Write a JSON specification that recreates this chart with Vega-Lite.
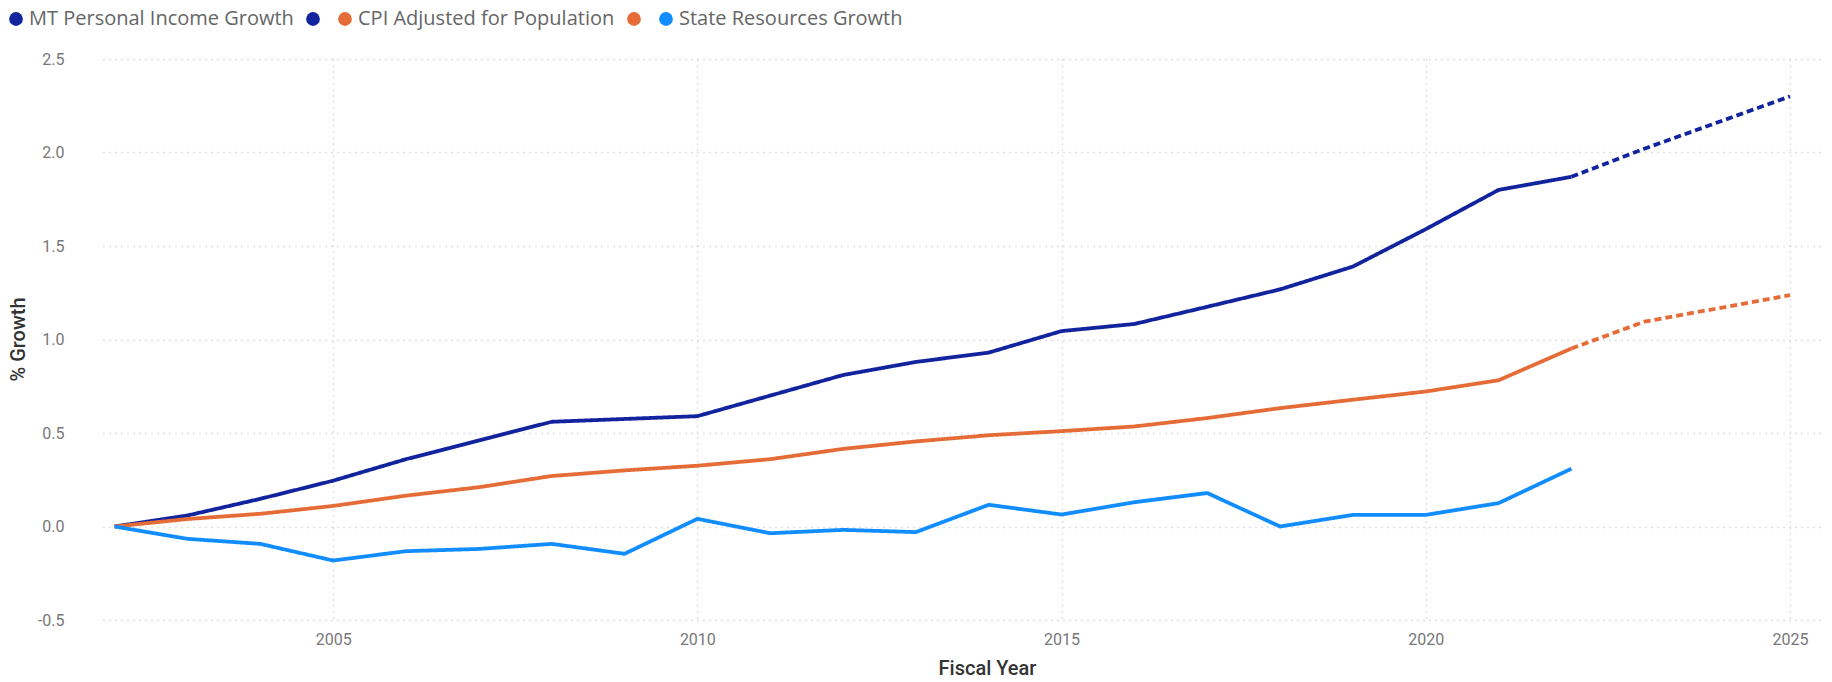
{
  "$schema": "https://vega.github.io/schema/vega-lite/v6.json",
  "autosize": "none",
  "width": 1719,
  "height": 561,
  "padding": {"left": 103, "top": 59, "right": 10, "bottom": 62},
  "background": "white",
  "config": {"view": {"stroke": null}},
  "data": {
    "values": [
      {"series": "MT Personal Income Growth", "kind": "Actual", "year": 2002, "value": 0.0},
      {"series": "MT Personal Income Growth", "kind": "Actual", "year": 2003, "value": 0.059},
      {"series": "MT Personal Income Growth", "kind": "Actual", "year": 2004, "value": 0.148},
      {"series": "MT Personal Income Growth", "kind": "Actual", "year": 2005, "value": 0.245},
      {"series": "MT Personal Income Growth", "kind": "Actual", "year": 2006, "value": 0.36},
      {"series": "MT Personal Income Growth", "kind": "Actual", "year": 2007, "value": 0.46},
      {"series": "MT Personal Income Growth", "kind": "Actual", "year": 2008, "value": 0.56},
      {"series": "MT Personal Income Growth", "kind": "Actual", "year": 2009, "value": 0.575},
      {"series": "MT Personal Income Growth", "kind": "Actual", "year": 2010, "value": 0.59},
      {"series": "MT Personal Income Growth", "kind": "Actual", "year": 2011, "value": 0.70},
      {"series": "MT Personal Income Growth", "kind": "Actual", "year": 2012, "value": 0.81},
      {"series": "MT Personal Income Growth", "kind": "Actual", "year": 2013, "value": 0.88},
      {"series": "MT Personal Income Growth", "kind": "Actual", "year": 2014, "value": 0.93},
      {"series": "MT Personal Income Growth", "kind": "Actual", "year": 2015, "value": 1.045},
      {"series": "MT Personal Income Growth", "kind": "Actual", "year": 2016, "value": 1.083},
      {"series": "MT Personal Income Growth", "kind": "Actual", "year": 2017, "value": 1.175},
      {"series": "MT Personal Income Growth", "kind": "Actual", "year": 2018, "value": 1.268},
      {"series": "MT Personal Income Growth", "kind": "Actual", "year": 2019, "value": 1.39},
      {"series": "MT Personal Income Growth", "kind": "Actual", "year": 2020, "value": 1.59},
      {"series": "MT Personal Income Growth", "kind": "Actual", "year": 2021, "value": 1.80},
      {"series": "MT Personal Income Growth", "kind": "Actual", "year": 2022, "value": 1.87},
      {"series": "MT Personal Income Growth Forecast", "kind": "Forecast", "year": 2022, "value": 1.87},
      {"series": "MT Personal Income Growth Forecast", "kind": "Forecast", "year": 2023, "value": 2.02},
      {"series": "MT Personal Income Growth Forecast", "kind": "Forecast", "year": 2024, "value": 2.16},
      {"series": "MT Personal Income Growth Forecast", "kind": "Forecast", "year": 2025, "value": 2.30},
      {"series": "CPI Adjusted for Population", "kind": "Actual", "year": 2002, "value": 0.0},
      {"series": "CPI Adjusted for Population", "kind": "Actual", "year": 2003, "value": 0.04},
      {"series": "CPI Adjusted for Population", "kind": "Actual", "year": 2004, "value": 0.068},
      {"series": "CPI Adjusted for Population", "kind": "Actual", "year": 2005, "value": 0.11},
      {"series": "CPI Adjusted for Population", "kind": "Actual", "year": 2006, "value": 0.165},
      {"series": "CPI Adjusted for Population", "kind": "Actual", "year": 2007, "value": 0.21},
      {"series": "CPI Adjusted for Population", "kind": "Actual", "year": 2008, "value": 0.27},
      {"series": "CPI Adjusted for Population", "kind": "Actual", "year": 2009, "value": 0.30},
      {"series": "CPI Adjusted for Population", "kind": "Actual", "year": 2010, "value": 0.325},
      {"series": "CPI Adjusted for Population", "kind": "Actual", "year": 2011, "value": 0.36},
      {"series": "CPI Adjusted for Population", "kind": "Actual", "year": 2012, "value": 0.415},
      {"series": "CPI Adjusted for Population", "kind": "Actual", "year": 2013, "value": 0.455},
      {"series": "CPI Adjusted for Population", "kind": "Actual", "year": 2014, "value": 0.488},
      {"series": "CPI Adjusted for Population", "kind": "Actual", "year": 2015, "value": 0.51},
      {"series": "CPI Adjusted for Population", "kind": "Actual", "year": 2016, "value": 0.535},
      {"series": "CPI Adjusted for Population", "kind": "Actual", "year": 2017, "value": 0.58},
      {"series": "CPI Adjusted for Population", "kind": "Actual", "year": 2018, "value": 0.633},
      {"series": "CPI Adjusted for Population", "kind": "Actual", "year": 2019, "value": 0.678},
      {"series": "CPI Adjusted for Population", "kind": "Actual", "year": 2020, "value": 0.722},
      {"series": "CPI Adjusted for Population", "kind": "Actual", "year": 2021, "value": 0.782},
      {"series": "CPI Adjusted for Population", "kind": "Actual", "year": 2022, "value": 0.952},
      {"series": "CPI Adjusted for Population Forecast", "kind": "Forecast", "year": 2022, "value": 0.952},
      {"series": "CPI Adjusted for Population Forecast", "kind": "Forecast", "year": 2023, "value": 1.095},
      {"series": "CPI Adjusted for Population Forecast", "kind": "Forecast", "year": 2024, "value": 1.166},
      {"series": "CPI Adjusted for Population Forecast", "kind": "Forecast", "year": 2025, "value": 1.237},
      {"series": "State Resources Growth", "kind": "Actual", "year": 2002, "value": 0.0},
      {"series": "State Resources Growth", "kind": "Actual", "year": 2003, "value": -0.066},
      {"series": "State Resources Growth", "kind": "Actual", "year": 2004, "value": -0.093},
      {"series": "State Resources Growth", "kind": "Actual", "year": 2005, "value": -0.182},
      {"series": "State Resources Growth", "kind": "Actual", "year": 2006, "value": -0.132},
      {"series": "State Resources Growth", "kind": "Actual", "year": 2007, "value": -0.12},
      {"series": "State Resources Growth", "kind": "Actual", "year": 2008, "value": -0.093},
      {"series": "State Resources Growth", "kind": "Actual", "year": 2009, "value": -0.146},
      {"series": "State Resources Growth", "kind": "Actual", "year": 2010, "value": 0.041},
      {"series": "State Resources Growth", "kind": "Actual", "year": 2011, "value": -0.036},
      {"series": "State Resources Growth", "kind": "Actual", "year": 2012, "value": -0.018},
      {"series": "State Resources Growth", "kind": "Actual", "year": 2013, "value": -0.03},
      {"series": "State Resources Growth", "kind": "Actual", "year": 2014, "value": 0.116},
      {"series": "State Resources Growth", "kind": "Actual", "year": 2015, "value": 0.064},
      {"series": "State Resources Growth", "kind": "Actual", "year": 2016, "value": 0.13},
      {"series": "State Resources Growth", "kind": "Actual", "year": 2017, "value": 0.179},
      {"series": "State Resources Growth", "kind": "Actual", "year": 2018, "value": 0.0},
      {"series": "State Resources Growth", "kind": "Actual", "year": 2019, "value": 0.062},
      {"series": "State Resources Growth", "kind": "Actual", "year": 2020, "value": 0.062},
      {"series": "State Resources Growth", "kind": "Actual", "year": 2021, "value": 0.125},
      {"series": "State Resources Growth", "kind": "Actual", "year": 2022, "value": 0.309}
    ]
  },
  "mark": {"type": "line", "strokeWidth": 3.8, "strokeCap": "butt", "strokeJoin": "round"},
  "encoding": {
    "x": {
      "field": "year",
      "type": "quantitative",
      "scale": {"domain": [2001.84, 2025.44], "nice": false, "zero": false},
      "axis": {
        "values": [2005, 2010, 2015, 2020, 2025],
        "format": "d",
        "title": "Fiscal Year",
        "titleFont": "Roboto",
        "titleFontSize": 20,
        "titleFontWeight": 500,
        "titleColor": "#333333",
        "titleX": 884,
        "titleY": 48,
        "titleAnchor": "middle",
        "titleBaseline": "middle",
        "labelFont": "Roboto",
        "labelFontSize": 16,
        "labelColor": "#777777",
        "labelPadding": 11,
        "domain": false,
        "ticks": false,
        "grid": true,
        "gridColor": "#C0C0C0",
        "gridDash": [1, 5],
        "gridWidth": 1.3
      }
    },
    "y": {
      "field": "value",
      "type": "quantitative",
      "scale": {"domain": [-0.5, 2.5], "nice": false, "zero": false},
      "axis": {
        "values": [-0.5, 0, 0.5, 1, 1.5, 2, 2.5],
        "format": ".1f",
        "labelExpr": "replace(datum.label, '\u2212', '-')",
        "title": "% Growth",
        "titleFont": "Roboto",
        "titleFontSize": 20,
        "titleFontWeight": 500,
        "titleColor": "#333333",
        "titleX": -85,
        "titleY": 280,
        "titleAngle": 270,
        "titleAnchor": "middle",
        "titleBaseline": "middle",
        "labelFont": "Roboto",
        "labelFontSize": 16,
        "labelColor": "#777777",
        "labelPadding": 39,
        "domain": false,
        "ticks": false,
        "grid": true,
        "gridColor": "#C0C0C0",
        "gridDash": [1, 5],
        "gridWidth": 1.3
      }
    },
    "color": {
      "field": "series",
      "type": "nominal",
      "scale": {
        "domain": ["MT Personal Income Growth", "MT Personal Income Growth Forecast", "CPI Adjusted for Population", "CPI Adjusted for Population Forecast", "State Resources Growth"],
        "range": ["#12239E", "#12239E", "#E66C37", "#E66C37", "#118DFF"]
      },
      "legend": {
        "title": null,
        "orient": "none",
        "direction": "horizontal",
        "columns": 5,
        "legendX": -97,
        "legendY": -50,
        "symbolType": "circle",
        "symbolSize": 190,
        "symbolStrokeWidth": 0,
        "symbolOpacity": 1,
        "labelFont": "Open Sans",
        "labelFontSize": 20,
        "labelColor": "#666666",
        "labelOffset": 3,
        "labelLimit": 0,
        "columnPadding": 9,
        "labelExpr": "indexof(datum.label, 'Forecast') >= 0 ? '   ' : datum.label",
        "encode": {
          "symbols": {"update": {"fill": {"scale": "color", "field": "value"}, "strokeWidth": {"value": 0}, "strokeDash": {"value": [1, 0]}}}
        }
      }
    },
    "strokeDash": {
      "field": "kind",
      "type": "nominal",
      "scale": {"domain": ["Actual", "Forecast"], "range": [[1, 0], [7, 4]]},
      "legend": null
    },
    "detail": {"field": "series"}
  }
}
